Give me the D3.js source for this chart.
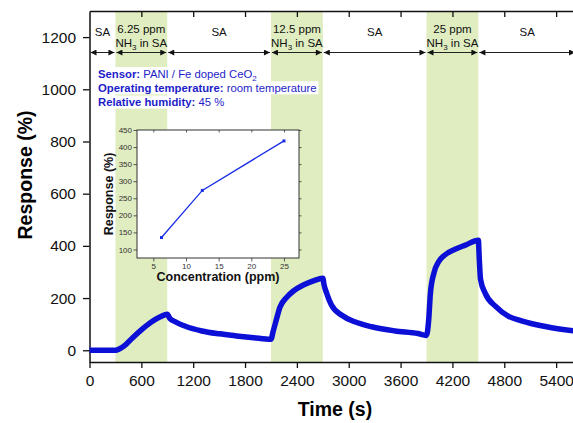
<!DOCTYPE html>
<html>
<head>
<meta charset="utf-8">
<script src="https://cdn.jsdelivr.net/npm/d3@7"></script>
<style>
body { margin: 0; background: #fff; }
svg { display: block; font-family: Arial, "Liberation Sans", sans-serif; }
</style>
</head>
<body>
<svg width="573" height="423"></svg>
<script>
// response transient
var timeSec = [0, 300, 350, 420, 500, 600, 720, 820, 900, 930, 1000, 1110, 1300, 1500, 1700, 1900,
    2100, 2125, 2150, 2205, 2280, 2360, 2475, 2590, 2700, 2715, 2745, 2800, 2920, 3070, 3265, 3535, 3800,
    3900, 3925, 3945, 3985, 4040, 4120, 4230, 4350, 4500, 4510, 4525, 4580, 4700, 4850, 4990, 5290, 5630];
var response = [0, 0, 6, 22, 48, 78, 109, 128, 138, 122, 108, 92, 74, 63, 55, 48,
    42, 72, 102, 166, 202, 227, 250, 266, 276, 250, 218, 173, 134, 109, 90, 74, 64,
    57, 115, 218, 295, 339, 367, 387, 403, 422, 355, 272, 218, 168, 130, 114, 90, 73];

var phaseEdges = [0, 300, 900, 2100, 2700, 3900, 4500, 5630];
var phaseNames = ["SA", "6.25 ppm", "SA", "12.5 ppm", "SA", "25 ppm", "SA"];
var exposures = [[300, 900], [2100, 2700], [3900, 4500]];

var xTicks = [0, 600, 1200, 1800, 2400, 3000, 3600, 4200, 4800, 5400];
var yTicks = [0, 200, 400, 600, 800, 1000, 1200];

// inset: response vs concentration
var concentration = [6.25, 12.5, 25];
var peakResponse = [135, 273, 418];
var insetXTicks = [5, 10, 15, 20, 25];
var insetYTicks = [100, 150, 200, 250, 300, 350, 400, 450];

var infoLabels = ["Sensor:", "Operating temperature:", "Relative humidity:"];
var infoValues = ["PANI / Fe doped CeO", "room temperature", "45 %"];

var svg = d3.select("svg");
var blue = "#0c0fd6";
var fmt = d3.format("d");

var x = d3.scaleLinear().domain([0, 5630]).range([89.5, 576]);
var y = d3.scaleLinear().domain([-45, 1300]).range([362, 11]);

// exposure bands
svg.append("g").selectAll("rect")
    .data(exposures)
    .enter()
    .append("rect")
    .attr("x", function(d) { return x(d[0]); })
    .attr("width", function(d) { return x(d[1]) - x(d[0]); })
    .attr("y", y(1300))
    .attr("height", y(-45) - y(1300))
    .attr("fill", "#e0edc0");

// axes
function minor(step, lo, hi) {
    return d3.range(lo, hi + 1, step);
}
var bottom = svg.append("g").attr("transform", "translate(0," + y(-45) + ")");
bottom.call(d3.axisBottom(x).tickValues(minor(300, 0, 5600)).tickSize(3.5).tickSizeOuter(0).tickFormat(""));
bottom.call(d3.axisBottom(x).tickValues(xTicks).tickSize(6).tickSizeOuter(0).tickPadding(7).tickFormat(fmt));

var top_ = svg.append("g").attr("transform", "translate(0," + y(1300) + ")");
top_.call(d3.axisBottom(x).tickValues(minor(300, 300, 5600)).tickSize(3.5).tickSizeOuter(0).tickFormat(""));
top_.call(d3.axisBottom(x).tickValues(xTicks.slice(1)).tickSize(6).tickSizeOuter(0).tickFormat(""));

var left = svg.append("g").attr("transform", "translate(" + x(0) + ",0)");
left.call(d3.axisLeft(y).tickValues(minor(100, 0, 1200)).tickSize(3.5).tickSizeOuter(0).tickFormat(""));
left.call(d3.axisLeft(y).tickValues(yTicks).tickSize(6.5).tickSizeOuter(0).tickPadding(7).tickFormat(fmt));

var right = svg.append("g").attr("transform", "translate(" + x(5630) + ",0)");
right.call(d3.axisLeft(y).tickValues(minor(100, 0, 1200)).tickSize(-3.5).tickSizeOuter(0).tickFormat(""));
right.call(d3.axisLeft(y).tickValues(yTicks).tickSize(-6).tickSizeOuter(0).tickFormat(""));

svg.selectAll(".domain").attr("stroke", "#111").attr("stroke-width", 1.5);
svg.selectAll(".tick line").attr("stroke", "#111").attr("stroke-width", 1.3);
svg.selectAll(".tick text").attr("font-size", 15.5).attr("fill", "#111")
    .attr("font-family", "Arial, 'Liberation Sans', sans-serif");

svg.append("text")
    .attr("x", 335).attr("y", 416)
    .attr("text-anchor", "middle")
    .attr("font-size", 19.5).attr("font-weight", "bold")
    .text("Time (s)");

svg.append("text")
    .attr("transform", "translate(32,175) rotate(-90)")
    .attr("text-anchor", "middle")
    .attr("font-size", 19.5).attr("font-weight", "bold")
    .text("Response (%)");

// phase labels and arrows
var defs = svg.append("defs");
defs.append("marker")
    .attr("id", "ah")
    .attr("viewBox", "0 0 10 10")
    .attr("refX", 10).attr("refY", 5)
    .attr("markerUnits", "userSpaceOnUse")
    .attr("markerWidth", 9).attr("markerHeight", 6)
    .attr("orient", "auto-start-reverse")
    .append("path")
    .attr("d", "M0,0L10,5L0,10z")
    .attr("fill", "#111");

var phases = d3.range(phaseNames.length).map(function(i) {
    return {a: phaseEdges[i], b: phaseEdges[i + 1], name: phaseNames[i], gas: phaseNames[i] != "SA"};
});

svg.append("g").selectAll("line")
    .data(phases)
    .enter()
    .append("line")
    .attr("x1", function(d) { return x(d.a) + 1; })
    .attr("x2", function(d) { return x(d.b) - 1; })
    .attr("y1", 52.5).attr("y2", 52.5)
    .attr("stroke", "#222").attr("stroke-width", 1)
    .attr("marker-start", "url(#ah)")
    .attr("marker-end", "url(#ah)");

var lab = svg.append("g").attr("font-size", 11.5).attr("fill", "#111").attr("text-anchor", "middle");
phases.forEach(function(d) {
    var cx = (x(d.a) + x(d.b)) / 2;
    if (!d.gas) {
        lab.append("text").attr("x", cx).attr("y", 36).text(d.name);
    } else {
        lab.append("text").attr("x", cx).attr("y", 33).text(d.name);
        var t = lab.append("text").attr("x", cx).attr("y", 46.5);
        t.append("tspan").text("NH");
        t.append("tspan").attr("font-size", 8).attr("dy", 3).text("3");
        t.append("tspan").attr("dy", -3).text(" in SA");
    }
});

// info text with white boxes
var info = svg.append("g");
infoLabels.forEach(function(l, i) {
    var row = info.append("g");
    var t = row.append("text")
        .attr("x", 98).attr("y", 77.5 + i * 14.3)
        .attr("font-size", 11.3).attr("fill", "#1d1dc8");
    t.append("tspan").attr("font-weight", "bold").text(l + " ");
    t.append("tspan").text(infoValues[i]);
    if (i == 0) t.append("tspan").attr("font-size", 8).attr("dy", 3).text("2");
    var bb = t.node().getBBox();
    row.insert("rect", "text")
        .attr("x", bb.x - 2).attr("y", bb.y - 0.5)
        .attr("width", bb.width + 4).attr("height", bb.height + 1)
        .attr("fill", "#fff");
});

// inset
var ix = d3.scaleLinear().domain([2.5, 27.3]).range([137, 299]);
var iy = d3.scaleLinear().domain([75, 450]).range([258, 130]);
var inset = svg.append("g");
inset.append("rect")
    .attr("x", ix(2.5)).attr("y", iy(450))
    .attr("width", ix(27.3) - ix(2.5)).attr("height", iy(75) - iy(450))
    .attr("fill", "#fff").attr("stroke", "#333").attr("stroke-width", 1);

var ib = inset.append("g").attr("transform", "translate(0," + iy(75) + ")");
ib.call(d3.axisBottom(ix).tickValues([2.5, 7.5, 12.5, 17.5, 22.5]).tickSize(2).tickSizeOuter(0).tickFormat(""));
ib.call(d3.axisBottom(ix).tickValues(insetXTicks).tickSize(3.5).tickSizeOuter(0).tickPadding(1.5));
var it = inset.append("g").attr("transform", "translate(0," + iy(450) + ")");
it.call(d3.axisBottom(ix).tickValues(insetXTicks).tickSize(2.5).tickSizeOuter(0).tickFormat(""));
var il = inset.append("g").attr("transform", "translate(" + ix(2.5) + ",0)");
il.call(d3.axisLeft(iy).tickValues(d3.range(75, 451, 25)).tickSize(2).tickSizeOuter(0).tickFormat(""));
il.call(d3.axisLeft(iy).tickValues(insetYTicks).tickSize(3.5).tickSizeOuter(0).tickPadding(1.5));
var ir = inset.append("g").attr("transform", "translate(" + ix(27.3) + ",0)");
ir.call(d3.axisLeft(iy).tickValues(insetYTicks).tickSize(-2.5).tickSizeOuter(0).tickFormat(""));

inset.selectAll(".domain").attr("stroke", "none");
inset.selectAll(".tick line").attr("stroke", "#333").attr("stroke-width", 0.8);
inset.selectAll(".tick text").attr("font-size", 8).attr("fill", "#333");

inset.append("text")
    .attr("transform", "translate(113,194) rotate(-90)")
    .attr("text-anchor", "middle")
    .attr("font-size", 12.5).attr("font-weight", "bold").attr("fill", "#111")
    .text("Response (%)");
inset.append("text")
    .attr("x", 218).attr("y", 281)
    .attr("text-anchor", "middle")
    .attr("font-size", 12.5).attr("font-weight", "bold").attr("fill", "#111")
    .text("Concentration (ppm)");

var insetLine = d3.line()
    .x(function(d, i) { return ix(concentration[i]); })
    .y(function(d) { return iy(d); });
inset.append("path")
    .datum(peakResponse)
    .attr("d", insetLine)
    .attr("fill", "none")
    .attr("stroke", "#1a2ee6")
    .attr("stroke-width", 1.3);
inset.selectAll("rect.pt")
    .data(peakResponse)
    .enter()
    .append("rect")
    .attr("class", "pt")
    .attr("x", function(d, i) { return ix(concentration[i]) - 1.5; })
    .attr("y", function(d) { return iy(d) - 1.5; })
    .attr("width", 3).attr("height", 3)
    .attr("fill", "#1a2ee6");

// main transient curve
var line = d3.line()
    .x(function(d) { return x(d); })
    .y(function(d, i) { return y(response[i]); })
    .curve(d3.curveMonotoneX);

svg.append("path")
    .datum(timeSec)
    .attr("d", line)
    .attr("fill", "none")
    .attr("stroke", blue)
    .attr("stroke-width", 5.5)
    .attr("stroke-linejoin", "round");
</script>
</body>
</html>
